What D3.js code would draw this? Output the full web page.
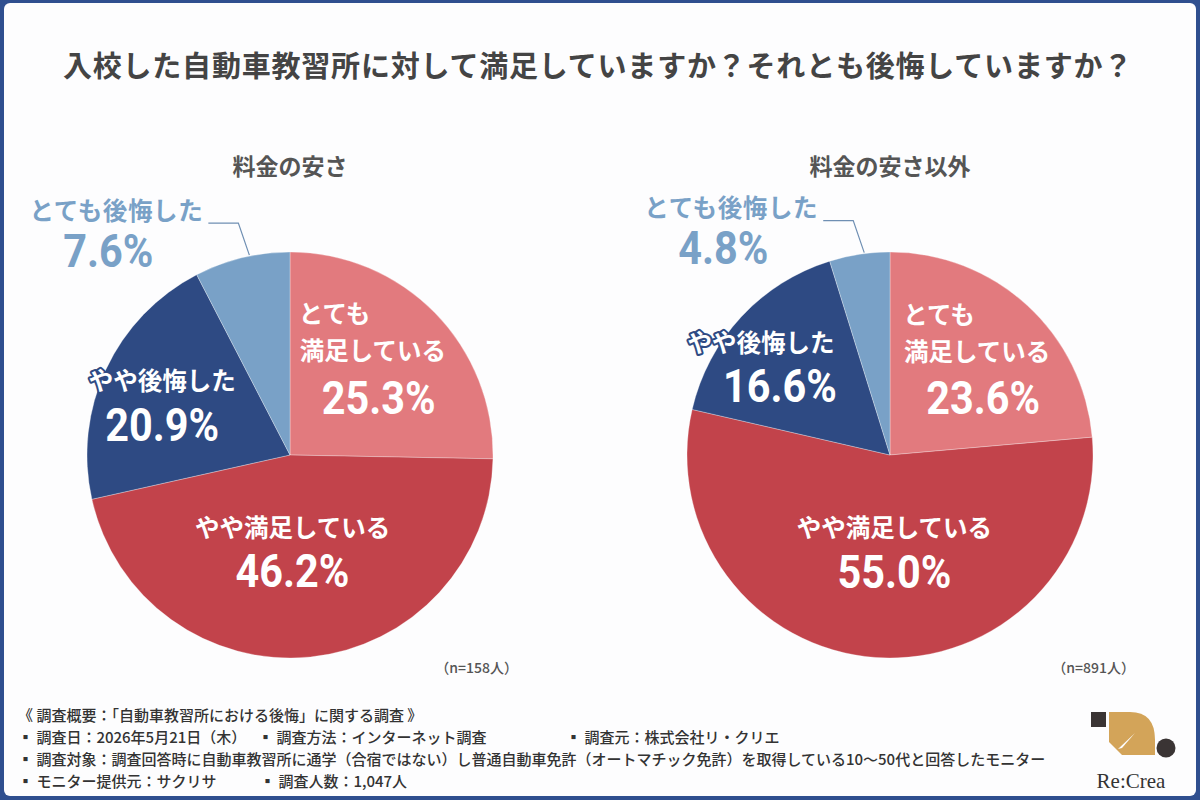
<!DOCTYPE html>
<html>
<head>
<meta charset="utf-8">
<script src="https://cdn.jsdelivr.net/npm/d3@7"></script>
<style>
  html, body { margin: 0; padding: 0; background: #2f4f8f; }
  svg { display: block; }
</style>
</head>
<body>
<div id="chart"></div>
<script>
// data
const categories = ["とても満足している", "やや満足している", "やや後悔した", "とても後悔した"];
const priceValues = [25.3, 46.2, 20.9, 7.6];
const otherValues = [23.6, 55.0, 16.6, 4.8];
const chartTitles = ["料金の安さ", "料金の安さ以外"];
const sampleSizes = ["（n=158人）", "（n=891人）"];
const colors = ["#e27a7e", "#c2434b", "#2e4a83", "#79a1c7"];

const title = "入校した自動車教習所に対して満足していますか？それとも後悔していますか？";
const footerLines = [
  [["《 調査概要：「自動車教習所における後悔」に関する調査 》", 18]],
  [["▪ 調査日：2026年5月21日（木）", 18], ["▪ 調査方法：インターネット調査", 258], ["▪ 調査元：株式会社リ・クリエ", 566]],
  [["▪ 調査対象：調査回答時に自動車教習所に通学（合宿ではない）し普通自動車免許（オートマチック免許）を取得している10〜50代と回答したモニター", 18]],
  [["▪ モニター提供元：サクリサ", 18], ["▪ 調査人数：1,047人", 260]]
];

const W = 1200, H = 800;
const jp = "'Noto Sans CJK JP', 'Noto Sans', sans-serif";
const num = "Roboto, 'Noto Sans', sans-serif";

const svg = d3.select("#chart").append("svg")
  .attr("width", W)
  .attr("height", H);

// card
svg.append("rect")
  .attr("x", 4).attr("y", 3)
  .attr("width", W - 8).attr("height", H - 7)
  .attr("rx", 6)
  .attr("fill", "#fdfdfe");

svg.append("text")
  .attr("x", 598).attr("y", 64)
  .attr("text-anchor", "middle")
  .attr("dominant-baseline", "central")
  .attr("font-family", jp)
  .attr("font-weight", 700)
  .attr("font-size", 29)
  .attr("letter-spacing", 0.8)
  .attr("fill", "#444")
  .text(title);

const R = 203;
const pie = d3.pie().sort(null).value(d => d);
const arc = d3.arc().innerRadius(0).outerRadius(R);
const fmt = v => d3.format(".1f")(v) + "%";

// condensed percentage text
function pctText(sel, x, y, t) {
  return sel.append("text")
    .attr("transform", `translate(${x},${y}) scale(0.9,1)`)
    .attr("text-anchor", "middle")
    .attr("dominant-baseline", "central")
    .attr("font-family", num)
    .attr("font-weight", 700)
    .attr("font-size", 46)
    .text(t);
}

// label layout per chart: [centroid radius, dx, dy] for the three inside labels
const charts = [
  {
    cx: 290, cy: 455, values: priceValues, name: chartTitles[0], n: sampleSizes[0], nx: 518,
    inside: [[130, -10, -9], [95, -7, 0], [140, -1, 7]],
    s3Shift: [0, 0]
  },
  {
    cx: 890, cy: 455, values: otherValues, name: chartTitles[1], n: sampleSizes[1], nx: 1135,
    inside: [[135, -4, 0], [95, 11, 0], [150, -10, 11]],
    s3Shift: [-9, 10]
  }
];

charts.forEach(c => {
  const g = svg.append("g").attr("transform", `translate(${c.cx},${c.cy})`);
  const arcs = pie(c.values);

  svg.append("text")
    .attr("x", c.cx).attr("y", 165)
    .attr("text-anchor", "middle")
    .attr("dominant-baseline", "central")
    .attr("font-family", jp)
    .attr("font-weight", 700)
    .attr("font-size", 23)
    .attr("fill", "#555")
    .text(c.name);

  g.selectAll("path")
    .data(arcs)
    .join("path")
    .attr("d", arc)
    .attr("fill", (d, i) => colors[i])
    .attr("stroke", "#fff")
    .attr("stroke-opacity", 0.5)
    .attr("stroke-width", 0.6);

  // inside labels
  arcs.slice(0, 3).forEach((d, i) => {
    const [lr, dx, dy] = c.inside[i];
    const p = d3.arc().innerRadius(lr).outerRadius(lr).centroid(d);
    const x = p[0] + dx, y = p[1] + dy;
    const lab = g.append("g")
      .attr("font-weight", 700)
      .attr("fill", "#fff")
      .attr("stroke", colors[i])
      .attr("stroke-width", 4)
      .attr("stroke-linejoin", "round")
      .attr("paint-order", "stroke")
      .attr("dominant-baseline", "central");
    if (i === 0) {
      lab.append("text").attr("x", x - 74).attr("y", y - 42)
        .attr("font-family", jp).attr("font-size", 24.5).text("とても");
      lab.append("text").attr("x", x).attr("y", y - 5).attr("text-anchor", "middle")
        .attr("font-family", jp).attr("font-size", 24.5).text("満足している");
      pctText(lab, x + 6, y + 43, fmt(c.values[i]));
    } else {
      const sx = i === 2 ? c.s3Shift : [0, 0];
      lab.append("text").attr("x", x + sx[0]).attr("y", y - 23).attr("text-anchor", "middle")
        .attr("font-family", jp).attr("font-size", 24.5).text(categories[i]);
      pctText(lab, x + sx[1], y + 22, fmt(c.values[i]));
    }
  });

  // outside label with leader for the small slice
  const d4 = arcs[3];
  const a = d4.startAngle + (d4.endAngle - d4.startAngle) * 0.58;
  const end = [Math.sin(a) * (R + 1), -Math.cos(a) * (R + 1)];
  const elbow = [end[0] - 11, end[1] - 32];
  const start = [elbow[0] - 30, elbow[1]];
  g.append("path")
    .attr("d", d3.line()([end, elbow, start]))
    .attr("fill", "none")
    .attr("stroke", "#6f8fb3")
    .attr("stroke-width", 1.2);
  g.append("text")
    .attr("x", start[0] - 92).attr("y", start[1] - 14)
    .attr("text-anchor", "middle")
    .attr("dominant-baseline", "central")
    .attr("font-family", jp).attr("font-weight", 700).attr("font-size", 24.5)
    .attr("letter-spacing", 0.6)
    .attr("fill", colors[3])
    .text(categories[3]);
  pctText(g, start[0] - 100, start[1] + 28, fmt(c.values[3]))
    .attr("fill", colors[3]);

  svg.append("text")
    .attr("x", c.nx).attr("y", 667)
    .attr("text-anchor", "end")
    .attr("dominant-baseline", "central")
    .attr("font-family", jp).attr("font-weight", 500).attr("font-size", 14)
    .attr("fill", "#555")
    .text(c.n);
});

// footer
const footY = [714, 736, 758, 780];
footerLines.forEach((row, r) => {
  row.forEach(([t, x]) => {
    svg.append("text")
      .attr("x", x).attr("y", footY[r])
      .attr("dominant-baseline", "central")
      .attr("font-family", jp).attr("font-weight", 500).attr("font-size", 15)
      .attr("fill", "#333")
      .text(t);
  });
});

// logo
const logo = svg.append("g");
logo.append("rect").attr("x", 1091).attr("y", 712).attr("width", 15).attr("height", 15).attr("fill", "#3a3434");
logo.append("path")
  .attr("d", "M1109,712 H1130 Q1155,712 1155,740 V755 H1122 L1109,742 Z")
  .attr("fill", "#d3a459");
logo.append("path")
  .attr("d", "M1135,733 L1118,749 L1122,748 Z")
  .attr("fill", "#fdfdfe");
logo.append("circle").attr("cx", 1166).attr("cy", 748).attr("r", 9.5).attr("fill", "#3a3434");
logo.append("text")
  .attr("x", 1131).attr("y", 781)
  .attr("text-anchor", "middle")
  .attr("dominant-baseline", "central")
  .attr("font-family", "'Liberation Serif', 'DejaVu Serif', serif")
  .attr("font-size", 21)
  .attr("fill", "#333")
  .text("Re:Crea");
</script>
</body>
</html>
